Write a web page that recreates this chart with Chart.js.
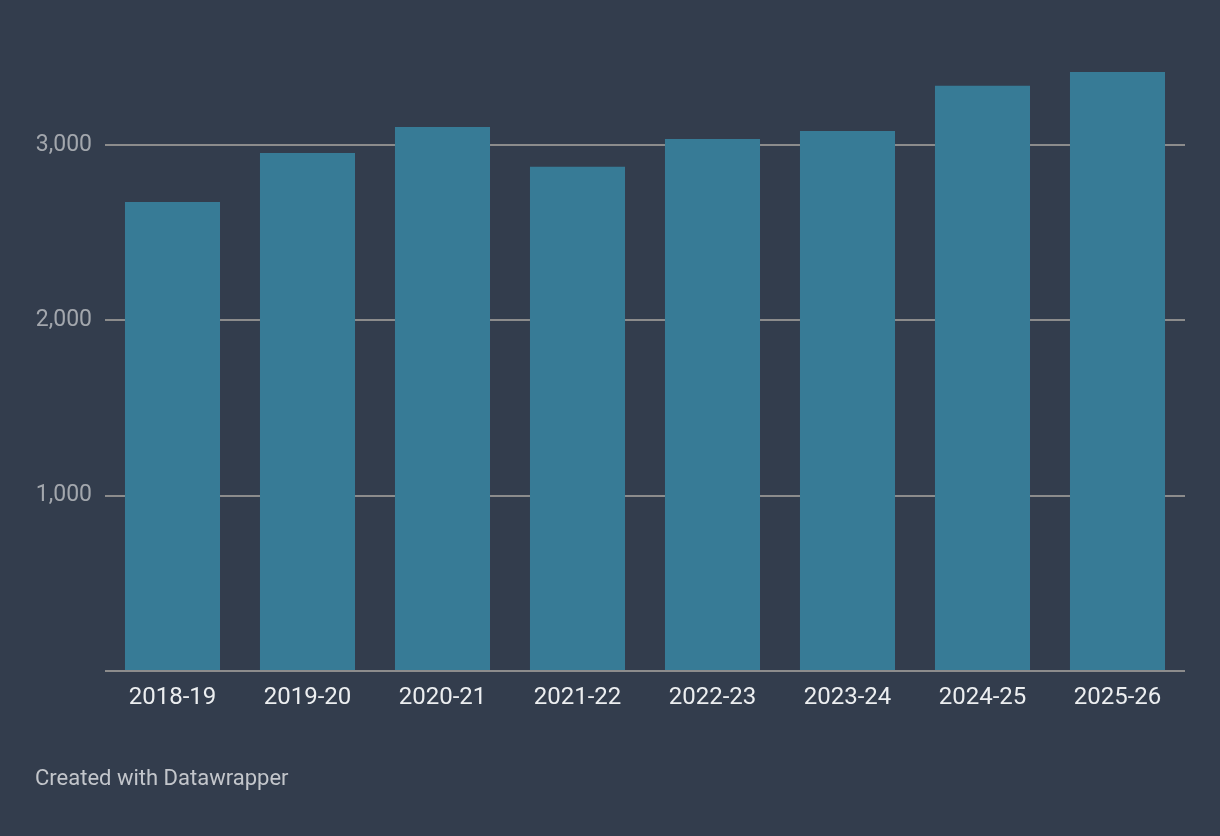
<!DOCTYPE html>
<html>
<head>
<meta charset="utf-8">
<script src="https://cdn.jsdelivr.net/npm/chart.js@4"></script>
<style>
    html, body { margin: 0; padding: 0; background: #333d4d; }
    #wrap { position: relative; width: 1220px; height: 836px; }
    #footer {
        position: absolute; left: 35px; top: 765px;
        font-family: Roboto, sans-serif; font-size: 22px; color: #c3c6cb;
    }
</style>
</head>
<body>
<div id="wrap">
    <canvas id="chart" width="1220" height="836"></canvas>
    <div id="footer">Created with Datawrapper</div>
</div>
<script>
const seasons = ['2018-19', '2019-20', '2020-21', '2021-22', '2022-23', '2023-24', '2024-25', '2025-26'];
const values = [2675, 2954, 3103, 2875, 3034, 3080, 3337, 3416];
const yTicks = [0, 1000, 2000, 3000];

const ctx = document.getElementById('chart').getContext('2d');
const chart = new Chart(ctx, {
    type: 'bar',
    data: {
        labels: seasons,
        datasets: [{
            data: values,
            backgroundColor: '#377b96',
            categoryPercentage: 1,
            barPercentage: 0.704
        }]
    },
    options: {
        responsive: false,
        animation: false,
        layout: { padding: { top: 72, right: 35, bottom: 115, left: 0 } },
        plugins: { legend: { display: false }, tooltip: { enabled: false } },
        scales: {
            x: {
                grid: { display: false },
                border: { display: false },
                ticks: { color: '#eceef0', font: { family: 'Roboto', size: 24 }, padding: 5, maxRotation: 0 },
                afterFit: scale => { scale.height = 50; }
            },
            y: {
                min: 0,
                max: 3416,
                afterBuildTicks: scale => { scale.ticks = yTicks.map(v => ({ value: v })); },
                grid: { color: '#8c8c8c', lineWidth: 2, drawTicks: false },
                border: { display: false },
                ticks: {
                    color: '#a3a7ad',
                    font: { family: 'Roboto', size: 23 },
                    padding: 13,
                    callback: v => v === 0 ? '' : v.toLocaleString('en-US')
                },
                afterFit: scale => { scale.width = 105; }
            }
        }
    }
});
</script>
</body>
</html>
